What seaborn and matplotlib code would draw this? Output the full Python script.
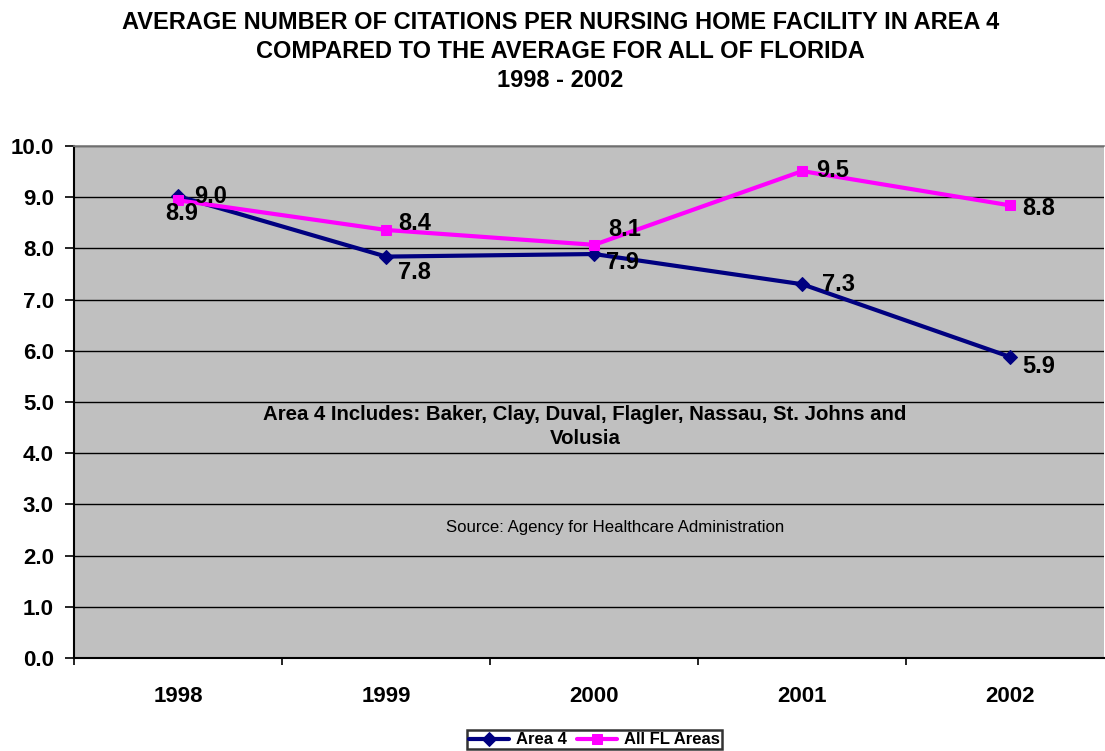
import pandas as pd
import seaborn as sns
import matplotlib.pyplot as plt
from matplotlib.ticker import MultipleLocator, FixedLocator

# Data
years = ["1998", "1999", "2000", "2001", "2002"]
area4 = [9.02, 7.84, 7.89, 7.30, 5.88]
all_fl = [8.94, 8.36, 8.07, 9.51, 8.84]

# label offsets in pixels (Excel-style label placement)
area4_offsets = [(16, 0), (12, -16), (12, -8), (20, 0), (12, -10)]
fl_offsets = [(-13, -13), (12, 6), (14, 15), (14, 1), (12, -3)]

sns.set_theme(style="white")
plt.rcParams["font.family"] = ["Liberation Sans", "DejaVu Sans"]
plt.rcParams.update({"text.color": "black", "axes.labelcolor": "black",
                     "xtick.color": "black", "ytick.color": "black"})

NAVY = "#000080"
MAGENTA = "#FF00FF"

fig = plt.figure(figsize=(11.05, 7.51), dpi=100)
ax = fig.add_axes([0.067, 0.1238, 0.932, 0.6818])
ax.set_facecolor("#C0C0C0")

x = list(range(len(years)))
df = pd.DataFrame({"x": x + x,
                   "value": area4 + all_fl,
                   "series": ["Area 4"] * 5 + ["All FL Areas"] * 5})

sns.lineplot(data=df[df.series == "Area 4"], x="x", y="value", ax=ax,
             color=NAVY, linewidth=2.4, marker="D",
             markeredgecolor=NAVY, label="Area 4", zorder=3)
sns.lineplot(data=df[df.series == "All FL Areas"], x="x", y="value", ax=ax,
             color=MAGENTA, linewidth=2.4, marker="s",
             markeredgecolor=MAGENTA, label="All FL Areas", zorder=4)
# seaborn picks its own marker size; set the reference's sizes explicitly
ax.lines[0].set_markersize(10)
ax.lines[1].set_markersize(11)

for xi, v, off in zip(x, area4, area4_offsets):
    ax.annotate(f"{v:.1f}", (xi, v), xytext=off, textcoords="offset pixels",
                ha="left", va="center", fontsize=17, fontweight="bold",
                zorder=5)
for xi, v, off in zip(x, all_fl, fl_offsets):
    ax.annotate(f"{v:.1f}", (xi, v), xytext=off, textcoords="offset pixels",
                ha="left", va="center", fontsize=17, fontweight="bold",
                zorder=5)

# axes
ax.set_ylim(0, 10)
ax.set_xlim(-0.5, 4.45)
ax.yaxis.set_major_locator(MultipleLocator(1))
ax.yaxis.set_major_formatter(plt.FuncFormatter(lambda v, p: f"{v:.1f}"))
ax.grid(axis="y", color="black", linewidth=1)
ax.set_axisbelow(True)

ax.set_xticks(x)
ax.set_xticklabels(years)
ax.xaxis.set_minor_locator(FixedLocator([i - 0.5 for i in range(6)]))
ax.tick_params(axis="x", which="major", length=0, pad=20, labelsize=16)
ax.tick_params(axis="x", which="minor", length=5, width=1.2,
               direction="out", bottom=True)
ax.tick_params(axis="y", length=6.5, width=1.2, direction="out",
               left=True, labelsize=16, pad=8)
for lab in ax.get_xticklabels() + ax.get_yticklabels():
    lab.set_fontweight("bold")

ax.set_xlabel("")
ax.set_ylabel("")
for side in ["left", "bottom"]:
    ax.spines[side].set_color("black")
    ax.spines[side].set_linewidth(1.5)
ax.spines["top"].set_color("#808080")
ax.spines["right"].set_visible(False)

# annotations inside plot
ax.text(0.496, 0.452, "Area 4 Includes: Baker, Clay, Duval, Flagler, Nassau, St. Johns and\nVolusia",
        transform=ax.transAxes, ha="center", va="center", fontsize=14.7,
        fontweight="bold", linespacing=1.3)
ax.text(0.525, 0.254, "Source: Agency for Healthcare Administration",
        transform=ax.transAxes, ha="center", va="center", fontsize=12.1)

# title
fig.text(0.507, 0.986, "AVERAGE NUMBER OF CITATIONS PER NURSING HOME FACILITY IN AREA 4\n"
         "COMPARED TO THE AVERAGE FOR ALL OF FLORIDA\n1998 - 2002",
         ha="center", va="top", fontsize=17, fontweight="bold", linespacing=1.36)

# legend
ax.get_legend().remove()
handles, labels = ax.get_legend_handles_labels()
for h in handles:
    h.set_markersize(7)
    h.set_linewidth(3)
leg = fig.legend(handles, labels, loc="lower center", bbox_to_anchor=(0.538, 0.0),
                 ncol=2, frameon=True, fancybox=False, edgecolor="black",
                 prop={"weight": "bold", "size": 12}, handlelength=2.4,
                 columnspacing=0.6, handletextpad=0.4, borderpad=0.12,
                 borderaxespad=0.1)
leg.get_frame().set_linewidth(1.8)

fig.savefig("out.png", dpi=100)
plt.close(fig)
